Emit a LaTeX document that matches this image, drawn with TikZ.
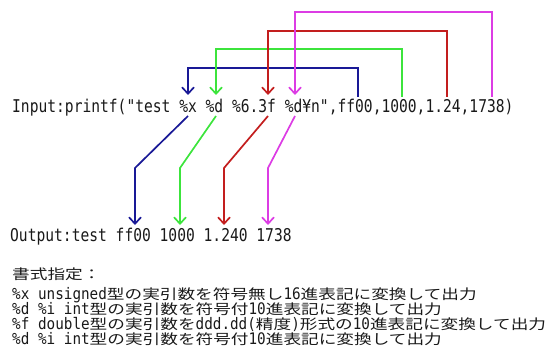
\documentclass[tikz,border=0pt]{standalone}
\usepackage{fontspec}
\usetikzlibrary{arrows.meta}
\newfontfamily\hwfont[FakeStretch=0.83]{DejaVu Sans Mono}
\newfontfamily\hwsfont[FakeStretch=0.9]{DejaVu Sans Mono}
\newfontfamily\jpfont[FakeStretch=1.27]{Noto Sans CJK JP}
\newcommand\hwt[1]{{\hwfont\fontsize{17.6pt}{15pt}\selectfont #1}}
\newcommand\hws[1]{{\hwsfont\fontsize{15.9pt}{15pt}\selectfont #1}}
\newcommand\jpt[1]{{\jpfont\fontsize{13.9pt}{15pt}\selectfont #1}}
\definecolor{txtc}{RGB}{25,25,25}
\definecolor{cblue}{RGB}{25,25,150}
\definecolor{cgreen}{RGB}{60,228,60}
\definecolor{cred}{RGB}{195,30,30}
\definecolor{cmag}{RGB}{220,60,228}
\tikzset{
  txt/.style={anchor=base west, inner sep=0pt, text=txtc},
  link/.style={line width=1.7pt, line join=miter},
  tipped/.style={-{Straight Barb[length=6.5pt,width=12pt]}}
}
\begin{document}
\begin{tikzpicture}[x=1pt,y=-1pt]
\useasboundingbox (0,0) rectangle (556,355);
% texts
\node[txt] (input) at (12,112.5) {\hwt{Input:printf("test \%x \%d \%6.3f \%d¥n",ff00,1000,1.24,1738)}};
\node[txt] (output) at (10,241) {\hwt{Output:test ff00 1000 1.240 1738}};
\node[txt] (title) at (12,279) {\jpt{書式指定：}};
\node[txt] (l1) at (12,299) {\hws{\%x unsigned}\jpt{型の実引数を符号無し}\hws{16}\jpt{進表記に変換して出力}};
\node[txt] (l2) at (12,314) {\hws{\%d \%i int}\jpt{型の実引数を符号付}\hws{10}\jpt{進表記に変換して出力}};
\node[txt] (l3) at (12,329) {\hws{\%f double}\jpt{型の実引数を}\hws{ddd.dd(}\jpt{精度}\hws{)}\jpt{形式の}\hws{10}\jpt{進表記に変換して出力}};
\node[txt] (l4) at (12,344) {\hws{\%d \%i int}\jpt{型の実引数を符号付}\hws{10}\jpt{進表記に変換して出力}};
% coordinates
\coordinate (bA) at (358,97);  \coordinate (bB) at (358,68);  \coordinate (bC) at (188,68);  \coordinate (bD) at (188,95);
\coordinate (gA) at (402,97);  \coordinate (gB) at (402,49);  \coordinate (gC) at (216,49);  \coordinate (gD) at (216,95);
\coordinate (rA) at (447,97);  \coordinate (rB) at (447,31);  \coordinate (rC) at (268,31);  \coordinate (rD) at (268,95);
\coordinate (mA) at (492,97);  \coordinate (mB) at (492,12);  \coordinate (mC) at (295,12);  \coordinate (mD) at (295,95);
\coordinate (bE) at (188,116); \coordinate (bF) at (135,168); \coordinate (bG) at (135,225);
\coordinate (gE) at (216,116); \coordinate (gF) at (180,168); \coordinate (gG) at (180,225);
\coordinate (rE) at (268,116); \coordinate (rF) at (224,168); \coordinate (rG) at (224,225);
\coordinate (mE) at (295,116); \coordinate (mF) at (268,168); \coordinate (mG) at (268,225);
% upper connectors
\draw[link, cblue, tipped] (bA) -- (bB) -- (bC) -- (bD);
\draw[link, cgreen, tipped] (gA) -- (gB) -- (gC) -- (gD);
\draw[link, cred, tipped] (rA) -- (rB) -- (rC) -- (rD);
\draw[link, cmag, tipped] (mA) -- (mB) -- (mC) -- (mD);
% lower connectors
\draw[link, cblue, tipped] (bE) -- (bF) -- (bG);
\draw[link, cgreen, tipped] (gE) -- (gF) -- (gG);
\draw[link, cred, tipped] (rE) -- (rF) -- (rG);
\draw[link, cmag, tipped] (mE) -- (mF) -- (mG);
\end{tikzpicture}
\end{document}
